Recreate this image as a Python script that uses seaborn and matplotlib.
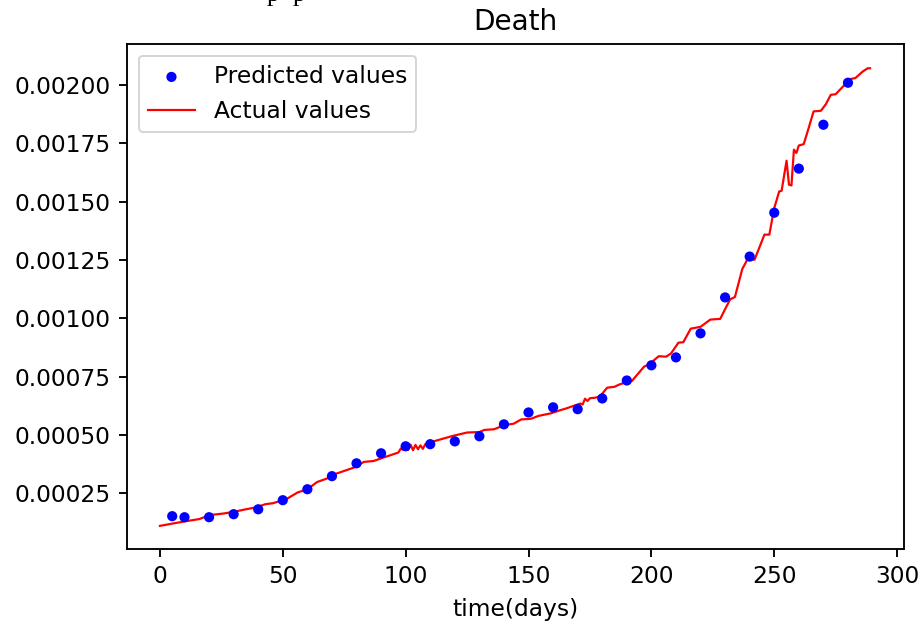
import matplotlib
matplotlib.use("Agg")
import matplotlib.pyplot as plt
import seaborn as sns
import pandas as pd

# Predicted values (every 10 days)
pred_days = [5, 10, 20, 30, 40, 50, 60, 70, 80, 90, 100, 110, 120, 130, 140,
             150, 160, 170, 180, 190, 200, 210, 220, 230, 240, 250, 260, 270, 280]
pred_vals = [0.0001515, 0.000147, 0.000147, 0.000160, 0.000181, 0.000220,
             0.000267, 0.000323, 0.000378, 0.000421, 0.000451, 0.000460,
             0.000472, 0.000494, 0.000545, 0.000596, 0.000618, 0.000610,
             0.000656, 0.000733, 0.000798, 0.000832, 0.000935, 0.001089,
             0.001264, 0.001452, 0.001641, 0.001829, 0.002009]

# Actual values
act_days = [0, 10, 16, 18, 21, 26, 30, 35, 39, 43, 46, 49, 52, 56, 60, 64, 68,
            71, 79, 83, 87, 91, 97, 98, 99, 100, 101, 102, 103, 104, 105, 106,
            107, 108, 112, 119, 125, 130, 132, 136, 140, 144, 147, 151, 154,
            159, 163, 165, 168, 171, 172, 173, 174, 175, 177, 179, 182, 185,
            187, 191, 192, 197, 199, 203, 206, 208, 211, 213, 216, 220, 224,
            228, 232, 234, 237, 239, 242, 246, 248, 250, 252, 253, 255, 256,
            257, 258, 259, 260, 262, 264, 266, 269, 271, 273, 275, 278, 281,
            283, 286, 288, 289]
act_vals = [0.000110, 0.000129, 0.000139, 0.000147, 0.000157, 0.000163,
            0.000170, 0.000181, 0.000189, 0.000203, 0.000207, 0.000217,
            0.000228, 0.000253, 0.000267, 0.000298, 0.000313, 0.000331,
            0.000360, 0.000384, 0.000388, 0.000403, 0.000424, 0.000441,
            0.000436, 0.000456, 0.000436, 0.000458, 0.000434, 0.000457,
            0.000438, 0.000455, 0.000440, 0.000460, 0.000474, 0.000495,
            0.000510, 0.000512, 0.000521, 0.000524, 0.000541, 0.000548,
            0.000566, 0.000569, 0.000581, 0.000592, 0.000606, 0.000612,
            0.000623, 0.000634, 0.000630, 0.000655, 0.000645, 0.000657,
            0.000659, 0.000664, 0.000702, 0.000706, 0.000716, 0.000730,
            0.000730, 0.000792, 0.000802, 0.000837, 0.000835, 0.000849,
            0.000895, 0.000897, 0.000955, 0.000963, 0.000994, 0.000997,
            0.001080, 0.001091, 0.001211, 0.001250, 0.001251, 0.001358,
            0.001358, 0.001472, 0.001543, 0.001546, 0.001675, 0.001572,
            0.001569, 0.001722, 0.001708, 0.001740, 0.001746, 0.001815,
            0.001886, 0.001889, 0.001917, 0.001957, 0.001960, 0.001993,
            0.002025, 0.002029, 0.002057, 0.002071, 0.002071]

y_ticks = [0.00025, 0.0005, 0.00075, 0.001, 0.00125, 0.0015, 0.00175, 0.002]
y_tick_labels = ["0.00025", "0.00050", "0.00075", "0.00100", "0.00125",
                 "0.00150", "0.00175", "0.00200"]
x_ticks = [0, 50, 100, 150, 200, 250, 300]

pred_df = pd.DataFrame({"day": pred_days, "value": pred_vals})
act_df = pd.DataFrame({"day": act_days, "value": act_vals})

S = 1.17  # overall scale of text / marks relative to 10pt defaults
plt.rcParams.update({
    "xtick.major.size": 3.5 * S, "ytick.major.size": 3.5 * S,
    "xtick.major.width": 0.8 * S, "ytick.major.width": 0.8 * S,
    "axes.linewidth": 0.8 * S,
})

fig = plt.figure(figsize=(921 / 144, 621 / 144), dpi=144)
ax = fig.add_axes([127 / 921, 1 - 549 / 621, (904 - 127) / 921, (549 - 44) / 621])

sns.scatterplot(data=pred_df, x="day", y="value", ax=ax, color="blue",
                s=26, edgecolor="none", label="Predicted values", zorder=3)
sns.lineplot(data=act_df, x="day", y="value", ax=ax, color="red",
             linewidth=1.1, label="Actual values", zorder=2)

ax.set_title("Death", fontsize=14, pad=6 * S)
ax.set_xlabel("time(days)", fontsize=11.7, labelpad=4 * S)
ax.set_ylabel("")
ax.set_xticks(x_ticks)
ax.set_yticks(y_ticks)
ax.set_yticklabels(y_tick_labels)
ax.set_xlim(-13.4, 302.8)
ax.set_ylim(0.0000108, 0.002175)
ax.tick_params(labelsize=11.7, pad=3.5 * S)

ax.legend(loc="upper left", fontsize=11.7, frameon=True)

# partially visible serif glyphs at the top edge (cropped page text)
fig.text(267 / 921, 1 - 0.5 / 621, "p", family="Liberation Serif", fontsize=13,
         va="baseline", ha="left")
fig.text(293 / 921, 1 - 0.5 / 621, "p", family="Liberation Serif", fontsize=13,
         va="baseline", ha="left")

fig.savefig("out.png", dpi=144)
